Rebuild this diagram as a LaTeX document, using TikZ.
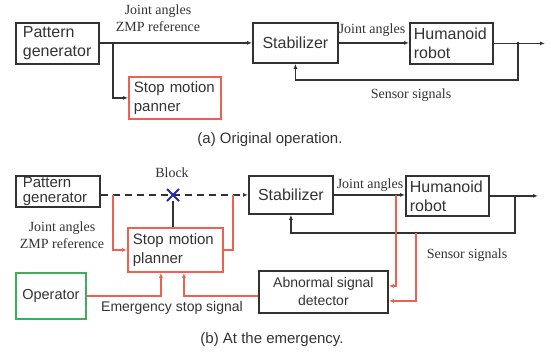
\documentclass[tikz,border=0pt]{standalone}
\usepackage{fontspec}
\setmainfont{Liberation Sans}
\newfontfamily\timesfont{Liberation Serif}
\usetikzlibrary{
    arrows.meta,
    positioning,
    shapes.misc
}

\definecolor{boxgray}{RGB}{50,50,50}
\definecolor{sigred}{RGB}{240,95,80}
\definecolor{opgreen}{RGB}{60,175,95}
\definecolor{blockblue}{RGB}{40,40,170}

\begin{document}
\begin{tikzpicture}[x=1pt,y=-1pt,
    blk/.style={draw=boxgray,line width=1.8pt,anchor=north west,inner sep=3pt,
                text=black!80,font=\fontsize{16}{19}\selectfont},
    lbl/.style={font=\timesfont\fontsize{14}{17}\selectfont,text=black!80},
    line/.style={draw=boxgray,line width=1.3pt},
    rline/.style={draw=sigred,line width=2pt},
    >={Latex[length=5pt,width=4pt]}]

\useasboundingbox (0,0) rectangle (551,360);

% (a) original operation
\node[blk,inner xsep=7pt,text width=69pt,align=left,minimum height=41pt] (pg1) at (15,22) {Pattern\\generator};
\node[blk,draw=sigred,inner xsep=5pt,text width=82pt,align=left,minimum height=42pt,
      font=\fontsize{15}{19}\selectfont] (smp1) at (128,76) {Stop motion\\panner};
\node[blk,minimum width=85pt,minimum height=40pt] (stb1) at (252,22) {Stabilizer};
\node[blk,inner xsep=4pt,text width=75pt,align=left,minimum height=41pt] (hr1) at (409,22) {Humanoid\\robot};

\coordinate (br1) at (113,42);
\coordinate (tap1) at (518,42);
\coordinate (fb1) at (518,80);
\coordinate (out1) at (545,42);

\draw[line,->] (pg1.east |- stb1.west) -- (stb1.west);
\draw[line,->] (br1) |- (smp1.west);
\draw[line,->] (stb1.east) -- (stb1.east -| hr1.west);
\draw[line,->] (hr1.east) -- (hr1.east -| out1);
\draw[line,->] (tap1) -- (fb1) -| (stb1.south);

\node[lbl,align=center] (ja1) at (158,18) {Joint angles\\ZMP reference};
\node[lbl] (ja2) at (372,30) {Joint angles};
\node[lbl] (ss1) at (411,95) {Sensor signals};
\node[text=black!80,font=\fontsize{15}{18}\selectfont] (cap1) at (270,140) {(a) Original operation.};

% (b) at the emergency
\node[blk,inner xsep=7pt,text width=70pt,align=left,minimum height=31pt,inner ysep=0pt,
      font=\fontsize{15}{15}\selectfont] (pg2) at (15,175) {Pattern\\generator};
\node[blk,minimum width=84pt,minimum height=38pt] (stb2) at (248,175) {Stabilizer};
\node[blk,inner xsep=4pt,text width=75pt,align=left,minimum height=40pt] (hr2) at (405,175) {Humanoid\\robot};
\node[blk,draw=sigred,inner xsep=5pt,text width=85pt,align=left,minimum height=44pt,
      font=\fontsize{15}{19}\selectfont] (smp2) at (127,227) {Stop motion\\planner};
\node[blk,draw=opgreen,minimum width=70pt,minimum height=46pt,
      font=\fontsize{14.5}{17}\selectfont] (op) at (15,272) {Operator};
\node[blk,align=center,minimum width=129pt,minimum height=42pt,
      font=\fontsize{14}{18}\selectfont] (asd) at (258,270) {Abnormal signal\\detector};

\coordinate (br2) at (113,195);
\coordinate (jn2) at (233,195);
\coordinate (ja3) at (396,195);
\coordinate (ss3) at (416,233);
\coordinate (tap2) at (515,195);
\coordinate (fb2) at (515,233);
\coordinate (out2) at (538,195);

% blocked path
\draw[line,dash pattern=on 7pt off 5pt,->] (pg2.east |- stb2.west) -- (stb2.west);
\node[cross out,draw=blockblue,line width=2pt,minimum size=10pt,inner sep=0pt] (xb) at (173,195) {};
\node[lbl] (blk1) at (172,173) {Block};
\draw[line] (xb) -- (xb |- smp2.north);

\draw[line,->] (stb2.east) -- (stb2.east -| hr2.west);
\draw[line,->] (hr2.east) -- (hr2.east -| out2);
\draw[line,->] (tap2) -- (fb2) -| (stb2.south);

% emergency signals
\draw[rline,->] (br2) |- (smp2.west);
\draw[rline] (smp2.east) -| (jn2);
\draw[rline,->] (op.east) -| ([xshift=-14.5pt]smp2.south);
\draw[rline,->] ([yshift=-4pt]asd.west) -| ([xshift=8.5pt]smp2.south);
\draw[rline,->] (ja3) |- ([yshift=6pt]asd.east);
\draw[rline,->] (ss3) |- ([yshift=-9pt]asd.east);

\node[lbl,align=center] (ja4) at (62,235) {Joint angles\\ZMP reference};
\node[lbl] (ja5) at (370,185) {Joint angles};
\node[lbl] (ss2) at (467,255) {Sensor signals};
\node[text=black!80,font=\fontsize{14}{17}\selectfont] (esig) at (172,308) {Emergency stop signal};
\node[text=black!80,font=\fontsize{15}{18}\selectfont] (cap2) at (272,340) {(b) At the emergency.};

\end{tikzpicture}
\end{document}
